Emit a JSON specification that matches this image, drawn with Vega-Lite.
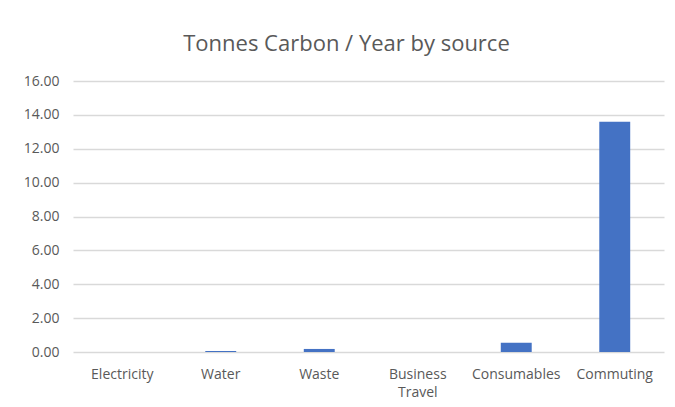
{
  "$schema": "https://vega.github.io/schema/vega-lite/v6.json",
  "autosize": "none",
  "width": 591,
  "height": 271,
  "padding": {"left": 73, "top": 81, "right": 11, "bottom": 55},
  "background": "white",
  "title": {
    "text": "Tonnes Carbon / Year by source",
    "anchor": "middle",
    "dx": -22,
    "offset": 30,
    "dy": 29,
    "baseline": "alphabetic",
    "font": "Open Sans",
    "fontSize": 22,
    "fontWeight": "normal",
    "color": "#595959"
  },
  "data": {
    "values": [
      {"source": "Electricity", "tonnes": 0},
      {"source": "Water", "tonnes": 0.06},
      {"source": "Waste", "tonnes": 0.18},
      {"source": "Business Travel", "tonnes": 0},
      {"source": "Consumables", "tonnes": 0.55},
      {"source": "Commuting", "tonnes": 13.6}
    ]
  },
  "mark": {"type": "bar", "color": "#4472C4"},
  "encoding": {
    "x": {
      "field": "source",
      "type": "nominal",
      "sort": null,
      "scale": {"paddingInner": 0.686, "paddingOuter": 0.343},
      "axis": {
        "title": null,
        "labelAngle": 0,
        "domain": false,
        "ticks": false,
        "labelPadding": 15,
        "labelFont": "Open Sans",
        "labelFontSize": 14,
        "labelColor": "#595959",
        "labelLineHeight": 18,
        "labelExpr": "datum.label == 'Business Travel' ? ['Business', 'Travel'] : datum.label"
      }
    },
    "y": {
      "field": "tonnes",
      "type": "quantitative",
      "scale": {"domain": [0, 16]},
      "axis": {
        "title": null,
        "values": [0, 2, 4, 6, 8, 10, 12, 14, 16],
        "format": ".2f",
        "domain": false,
        "ticks": false,
        "labelPadding": 14,
        "labelFont": "Open Sans",
        "labelFontSize": 14,
        "labelColor": "#595959",
        "gridColor": "#d9d9d9",
        "gridWidth": 1.3
      }
    }
  },
  "config": {"view": {"stroke": null}}
}
